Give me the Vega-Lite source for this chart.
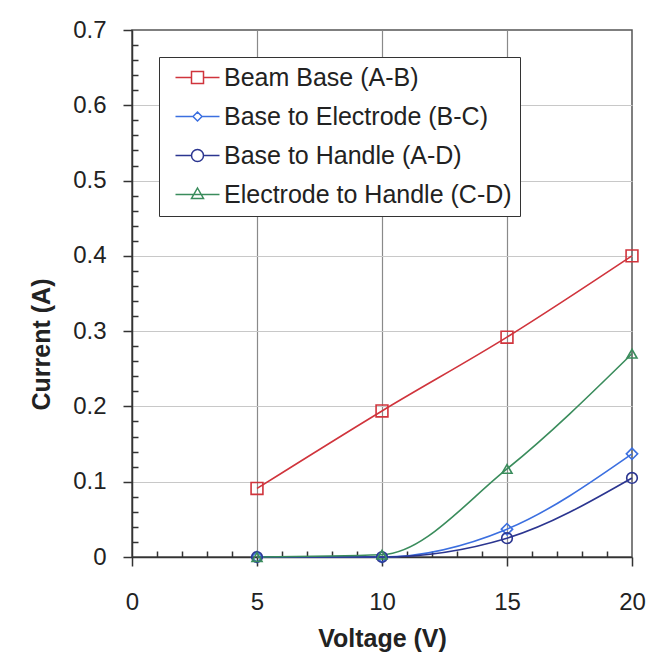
{
  "$schema": "https://vega.github.io/schema/vega-lite/v6.json",
  "width": 500,
  "height": 527,
  "autosize": {"type": "none"},
  "padding": {"left": 132, "top": 30, "right": 30, "bottom": 112},
  "background": "white",
  "config": {
    "view": {"stroke": "#555555", "strokeWidth": 1.5},
    "font": "Liberation Sans",
    "legend": {
      "title": null,
      "orient": "top-left",
      "offset": 27,
      "padding": 8,
      "strokeColor": "#333333",
      "fillColor": "white",
      "labelFont": "Liberation Sans",
      "labelFontSize": 25,
      "labelColor": "#222222",
      "labelLimit": 400,
      "symbolSize": 400,
      "symbolStrokeWidth": 1.5,
      "symbolFillColor": "transparent",
      "symbolOffset": 18,
      "labelOffset": 14,
      "rowPadding": 13
    }
  },
  "data": {
    "values": [
      {"series": "Beam Base (A-B)", "pair": "A-B", "voltage": 5, "current": 0.091},
      {"series": "Beam Base (A-B)", "pair": "A-B", "voltage": 10, "current": 0.194},
      {"series": "Beam Base (A-B)", "pair": "A-B", "voltage": 15, "current": 0.292},
      {"series": "Beam Base (A-B)", "pair": "A-B", "voltage": 20, "current": 0.4},
      {"series": "Base to Electrode (B-C)", "pair": "B-C", "voltage": 5, "current": 0.0},
      {"series": "Base to Electrode (B-C)", "pair": "B-C", "voltage": 10, "current": 0.0},
      {"series": "Base to Electrode (B-C)", "pair": "B-C", "voltage": 15, "current": 0.037},
      {"series": "Base to Electrode (B-C)", "pair": "B-C", "voltage": 20, "current": 0.137},
      {"series": "Base to Handle (A-D)", "pair": "A-D", "voltage": 5, "current": 0.0},
      {"series": "Base to Handle (A-D)", "pair": "A-D", "voltage": 10, "current": 0.0},
      {"series": "Base to Handle (A-D)", "pair": "A-D", "voltage": 15, "current": 0.025},
      {"series": "Base to Handle (A-D)", "pair": "A-D", "voltage": 20, "current": 0.105},
      {"series": "Electrode to Handle (C-D)", "pair": "C-D", "voltage": 5, "current": 0.0},
      {"series": "Electrode to Handle (C-D)", "pair": "C-D", "voltage": 10, "current": 0.003},
      {"series": "Electrode to Handle (C-D)", "pair": "C-D", "voltage": 15, "current": 0.117},
      {"series": "Electrode to Handle (C-D)", "pair": "C-D", "voltage": 20, "current": 0.27}
    ]
  },
  "encoding": {
    "x": {
      "field": "voltage",
      "type": "quantitative",
      "scale": {"domain": [0, 20], "nice": false},
      "axis": {
        "values": [0,1,2,3,4,5,6,7,8,9,10,11,12,13,14,15,16,17,18,19,20],
        "title": "Voltage (V)",
        "titleFont": "Liberation Sans",
        "titleFontSize": 25,
        "titleFontWeight": "bold",
        "titleColor": "#222222",
        "titlePadding": 12,
        "labelFontSize": 24,
        "labelColor": "#222222",
        "labelFlush": false,
        "labelOverlap": false,
        "labelPadding": 24,
        "labelExpr": "datum.value % 5 === 0 ? datum.label : ''",
        "tickSize": {"condition": {"test": "datum.value % 5 === 0", "value": 9}, "value": -6},
        "tickColor": "#333333",
        "tickWidth": 1.5,
        "domainColor": "#333333",
        "domainWidth": 1.5,
        "grid": true,
        "gridColor": "#8a8a8a",
        "gridWidth": 1.2,
        "gridOpacity": {"condition": {"test": "datum.value % 5 === 0 && datum.value > 0 && datum.value < 20", "value": 1}, "value": 0}
      }
    },
    "y": {
      "field": "current",
      "type": "quantitative",
      "scale": {"domain": [0, 0.7], "nice": false},
      "axis": {
        "values": [0,0.02,0.04,0.06,0.08,0.1,0.12,0.14,0.16,0.18,0.2,0.22,0.24,0.26,0.28,0.3,0.32,0.34,0.36,0.38,0.4,0.42,0.44,0.46,0.48,0.5,0.52,0.54,0.56,0.58,0.6,0.62,0.64,0.66,0.68,0.7],
        "title": "Current (A)",
        "titleFont": "Liberation Sans",
        "titleFontSize": 25,
        "titleFontWeight": "bold",
        "titleColor": "#222222",
        "titlePadding": 18,
        "titleY": 314,
        "labelFontSize": 24,
        "labelColor": "#222222",
        "labelFlush": false,
        "labelOverlap": false,
        "labelPadding": 17,
        "labelExpr": "round(datum.value * 100) % 10 === 0 ? (datum.value === 0 ? '0' : format(datum.value, '.1f')) : ''",
        "tickSize": {"condition": {"test": "round(datum.value * 100) % 10 === 0", "value": 9}, "value": -6},
        "tickColor": "#333333",
        "tickWidth": 1.5,
        "domainColor": "#333333",
        "domainWidth": 1.5,
        "grid": true,
        "gridColor": "#c8c8c8",
        "gridWidth": 1.2,
        "gridOpacity": {"condition": {"test": "round(datum.value * 100) % 10 === 0 && datum.value > 0.05 && datum.value < 0.65", "value": 1}, "value": 0}
      }
    },
    "color": {
      "field": "series",
      "type": "nominal",
      "scale": {
        "domain": ["Beam Base (A-B)", "Base to Electrode (B-C)", "Base to Handle (A-D)", "Electrode to Handle (C-D)"],
        "range": ["#d0343c", "#3b6fe0", "#2b3590", "#3a8c5c"]
      },
      "legend": {
        "symbolType": {"expr": "datum.value === 'Beam Base (A-B)' ? 'M-2.2,0H-0.6M0.6,0H2.2M-0.6,-0.6H0.6V0.6H-0.6Z' : datum.value === 'Base to Electrode (B-C)' ? 'M-2.2,0H-0.45M0.45,0H2.2M0,-0.45L0.45,0L0,0.45L-0.45,0Z' : datum.value === 'Base to Handle (A-D)' ? 'M-2.2,0H-0.6M0.6,0H2.2M0.6,0A0.6,0.6 0 1,1 -0.6,0A0.6,0.6 0 1,1 0.6,0Z' : 'M-2.2,0H2.2M0,-0.65L0.6,0.4H-0.6Z'"}
      }
    }
  },
  "layer": [
    {
      "mark": {"type": "line", "interpolate": "monotone", "strokeWidth": 1.6}
    },
    {
      "mark": {"type": "point", "filled": false, "strokeWidth": 1.6, "opacity": 1},
      "encoding": {
        "shape": {
          "field": "pair",
          "type": "nominal",
          "scale": {
            "domain": ["A-B", "B-C", "A-D", "C-D"],
            "range": ["square", "diamond", "circle", "triangle-up"]
          },
          "legend": null
        },
        "size": {
          "field": "pair",
          "type": "nominal",
          "scale": {
            "domain": ["A-B", "B-C", "A-D", "C-D"],
            "range": [140, 100, 170, 140]
          },
          "legend": null
        }
      }
    }
  ]
}
